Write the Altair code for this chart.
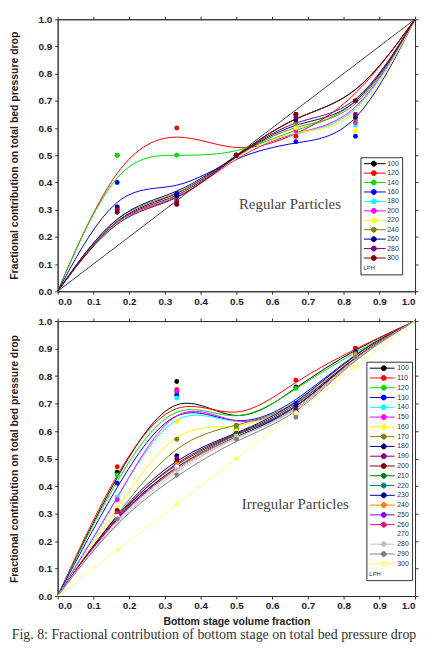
import altair as alt
import pandas as pd

# ---------------- data ----------------
X_INNER = [1/6, 1/3, 0.5, 2/3, 5/6]
TICKS = [0.0, 0.1, 0.2, 0.3, 0.4, 0.5, 0.6, 0.7, 0.8, 0.9, 1.0]

REG_FLOWS = ["100", "120", "140", "160", "180", "200", "220", "240", "260", "280", "300"]
REG_COLORS = ["#000000", "#FF0000", "#00DD00", "#0000FF", "#00FFFF", "#FF00FF",
              "#FFFF00", "#808000", "#000080", "#800080", "#800000"]
REG_VALUES = [
    [0.30, 0.34, 0.50, 0.65, 0.70],
    [0.50, 0.60, 0.50, 0.57, 0.70],
    [0.50, 0.50, 0.50, 0.60, 0.65],
    [0.40, 0.36, 0.50, 0.55, 0.57],
    [0.29, 0.33, 0.50, 0.59, 0.61],
    [0.30, 0.32, 0.50, 0.59, 0.62],
    [0.30, 0.33, 0.50, 0.60, 0.59],
    [0.31, 0.34, 0.50, 0.62, 0.63],
    [0.31, 0.35, 0.50, 0.63, 0.64],
    [0.30, 0.33, 0.50, 0.64, 0.65],
    [0.29, 0.32, 0.50, 0.65, 0.70],
]

IRR_FLOWS = ["100", "110", "120", "130", "140", "150", "160", "170", "180", "190", "200",
             "210", "220", "230", "240", "250", "260", "270", "280", "290", "300"]
IRR_COLORS = ["#000000", "#FF0000", "#00DD00", "#0000FF", "#00FFFF", "#FF00FF", "#FFFF00",
              "#808000", "#000080", "#800080", "#800000", "#008000", "#008080", "#0000A0",
              "#FF8000", "#8000FF", "#FF0080", "#FFFFFF", "#C0C0C0", "#808080", "#FFFF80"]
IRR_VALUES = [
    [0.45, 0.78, 0.60, 0.76, 0.90],
    [0.47, 0.75, 0.62, 0.785, 0.90],
    [0.44, 0.74, 0.61, 0.755, 0.89],
    [0.41, 0.73, 0.60, 0.70, 0.89],
    [0.36, 0.72, 0.60, 0.69, 0.89],
    [0.35, 0.745, 0.60, 0.68, 0.89],
    [0.32, 0.635, 0.60, 0.68, 0.89],
    [0.30, 0.57, 0.62, 0.68, 0.88],
    [0.31, 0.51, 0.59, 0.69, 0.89],
    [0.30, 0.50, 0.59, 0.68, 0.88],
    [0.31, 0.49, 0.59, 0.67, 0.88],
    [0.30, 0.48, 0.59, 0.67, 0.88],
    [0.30, 0.48, 0.58, 0.67, 0.88],
    [0.30, 0.48, 0.58, 0.67, 0.88],
    [0.29, 0.48, 0.58, 0.66, 0.88],
    [0.29, 0.47, 0.58, 0.66, 0.87],
    [0.30, 0.47, 0.58, 0.66, 0.87],
    [0.29, 0.47, 0.58, 0.66, 0.87],
    [0.28, 0.46, 0.58, 0.66, 0.87],
    [0.28, 0.44, 0.57, 0.65, 0.87],
    [0.167, 0.333, 0.50, 0.667, 0.833],
]

DIAG_X = [0.0, 1.0]
DIAG_Y = [0.0, 1.0]

REG_LABEL = ["Regular Particles"]
REG_LABEL_XY = [0.65, 0.32]
IRR_LABEL = ["Irregular Particles"]
IRR_LABEL_XY = [0.665, 0.335]

Y_TITLE = "Fractional contribution on total bed pressure drop"
X_TITLE = "Bottom stage volume fraction"
CAPTION = "Fig. 8: Fractional contribution of bottom stage on total bed pressure drop"


def frames(flows, values):
    lines, pts = [], []
    for f, vals in zip(flows, values):
        lines.append({"flow": f, "x": 0.0, "y": 0.0, "o": 0})
        for i, (xv, yv) in enumerate(zip(X_INNER, vals)):
            lines.append({"flow": f, "x": xv, "y": yv, "o": i + 1})
            pts.append({"flow": f, "x": xv, "y": yv})
        lines.append({"flow": f, "x": 1.0, "y": 1.0, "o": 6})
    return pd.DataFrame(lines), pd.DataFrame(pts)


def sym_path(x0, x1, c, r):
    return (f"M{x0},0H{x1}M{c - r:.3f},0A{r},{r},0,1,0,{c + r:.3f},0"
            f"A{r},{r},0,1,0,{c - r:.3f},0Z")


def panel(flows, colors, values, height, legend_xy, sym, label_offset, row_pad,
          label, label_xy, x_title, diag):
    dl, dp = frames(flows, values)
    xs = alt.Scale(domain=[0, 1], nice=False)
    ys = alt.Scale(domain=[0, 1], nice=False)
    leg = alt.Legend(orient="none", legendX=legend_xy[0], legendY=legend_xy[1],
                     title="LPH", titleOrient="bottom", titleAnchor="start",
                     titleFontSize=6, titleFontWeight="normal", titleFont="Liberation Sans",
                     titleColor="#333", titlePadding=3,
                     symbolType=sym, symbolSize=36, symbolStrokeWidth=1,
                     labelFontSize=7, labelFont="Liberation Sans", labelColor="#333",
                     strokeColor="#333", padding=3, rowPadding=row_pad,
                     labelOffset=label_offset, fillColor="white")
    color = alt.Color("flow:N", scale=alt.Scale(domain=flows, range=colors),
                      sort=flows, legend=leg)
    x_ax = alt.Axis(values=TICKS, format=".1f", title=x_title, tickSize=3,
                    labelPadding=2, titlePadding=6)
    y_ax = alt.Axis(values=TICKS, format=".1f", title=Y_TITLE, tickSize=3,
                    labelPadding=3, minExtent=25, maxExtent=25, titlePadding=13.5)
    layers = []
    if diag:
        dd = pd.DataFrame({"x": DIAG_X, "y": DIAG_Y})
        layers.append(alt.Chart(dd).mark_line(color="#444", strokeWidth=1).encode(
            x=alt.X("x:Q", scale=xs, axis=None), y=alt.Y("y:Q", scale=ys, axis=None)))
    lines = alt.Chart(dl).mark_line(interpolate="basis", strokeWidth=1).encode(
        x=alt.X("x:Q", scale=xs, axis=x_ax),
        y=alt.Y("y:Q", scale=ys, axis=y_ax),
        color=color, order="o:Q")
    pts = alt.Chart(dp).mark_point(filled=True, shape="circle", size=24, opacity=1).encode(
        x=alt.X("x:Q", scale=xs, axis=None),
        y=alt.Y("y:Q", scale=ys, axis=None),
        color=color)
    mirror = alt.Chart(dp).mark_point(opacity=0).encode(
        x=alt.X("x:Q", scale=xs, axis=alt.Axis(orient="top", values=TICKS, labels=False,
                                                 title=None, tickSize=3)),
        y=alt.Y("y:Q", scale=ys, axis=alt.Axis(orient="right", values=TICKS, labels=False,
                                                 title=None, tickSize=3)))
    td = pd.DataFrame({"t": label, "x": [label_xy[0]], "y": [label_xy[1]]})
    txt = alt.Chart(td).mark_text(font="Liberation Serif", fontSize=15, color="#444").encode(
        x=alt.X("x:Q", scale=xs, axis=None), y=alt.Y("y:Q", scale=ys, axis=None), text="t:N")
    layers += [lines, pts, mirror, txt]
    return alt.layer(*layers).resolve_axis(x="independent", y="independent").properties(
        width=360, height=height)


# legend symbol: 1 unit = 3 px (symbolSize 36)
top = panel(REG_FLOWS, REG_COLORS, REG_VALUES, 274, (305, 139),
            sym_path(-1, 6.33, 2.33, 0.83), 17, 0.5, REG_LABEL, REG_LABEL_XY, None, True)
bottom = panel(IRR_FLOWS, IRR_COLORS, IRR_VALUES, 277, (311, 41),
               sym_path(-1, 7.33, 3.67, 0.83), 21, 0.85, IRR_LABEL, IRR_LABEL_XY, X_TITLE,
               False)

chart = alt.vconcat(top, bottom, spacing=8).resolve_scale(color="independent").properties(
    title=alt.TitleParams(CAPTION, orient="bottom", anchor="middle", font="Liberation Serif",
                          fontSize=14, fontWeight="normal", color="#333", offset=0.5),
    padding={"left": 0, "top": 3, "right": 0, "bottom": 0},
).configure_view(stroke="#333", strokeWidth=1).configure_axis(
    labelFont="Liberation Sans", labelFontSize=10, labelFontWeight="bold", labelColor="#222",
    titleFont="Liberation Sans", titleFontSize=10.5, titleFontWeight="bold", titleColor="#222",
    grid=False, domainColor="#333", tickColor="#333",
)

chart.save("out.html", embed_options={"renderer": "svg", "actions": False})
